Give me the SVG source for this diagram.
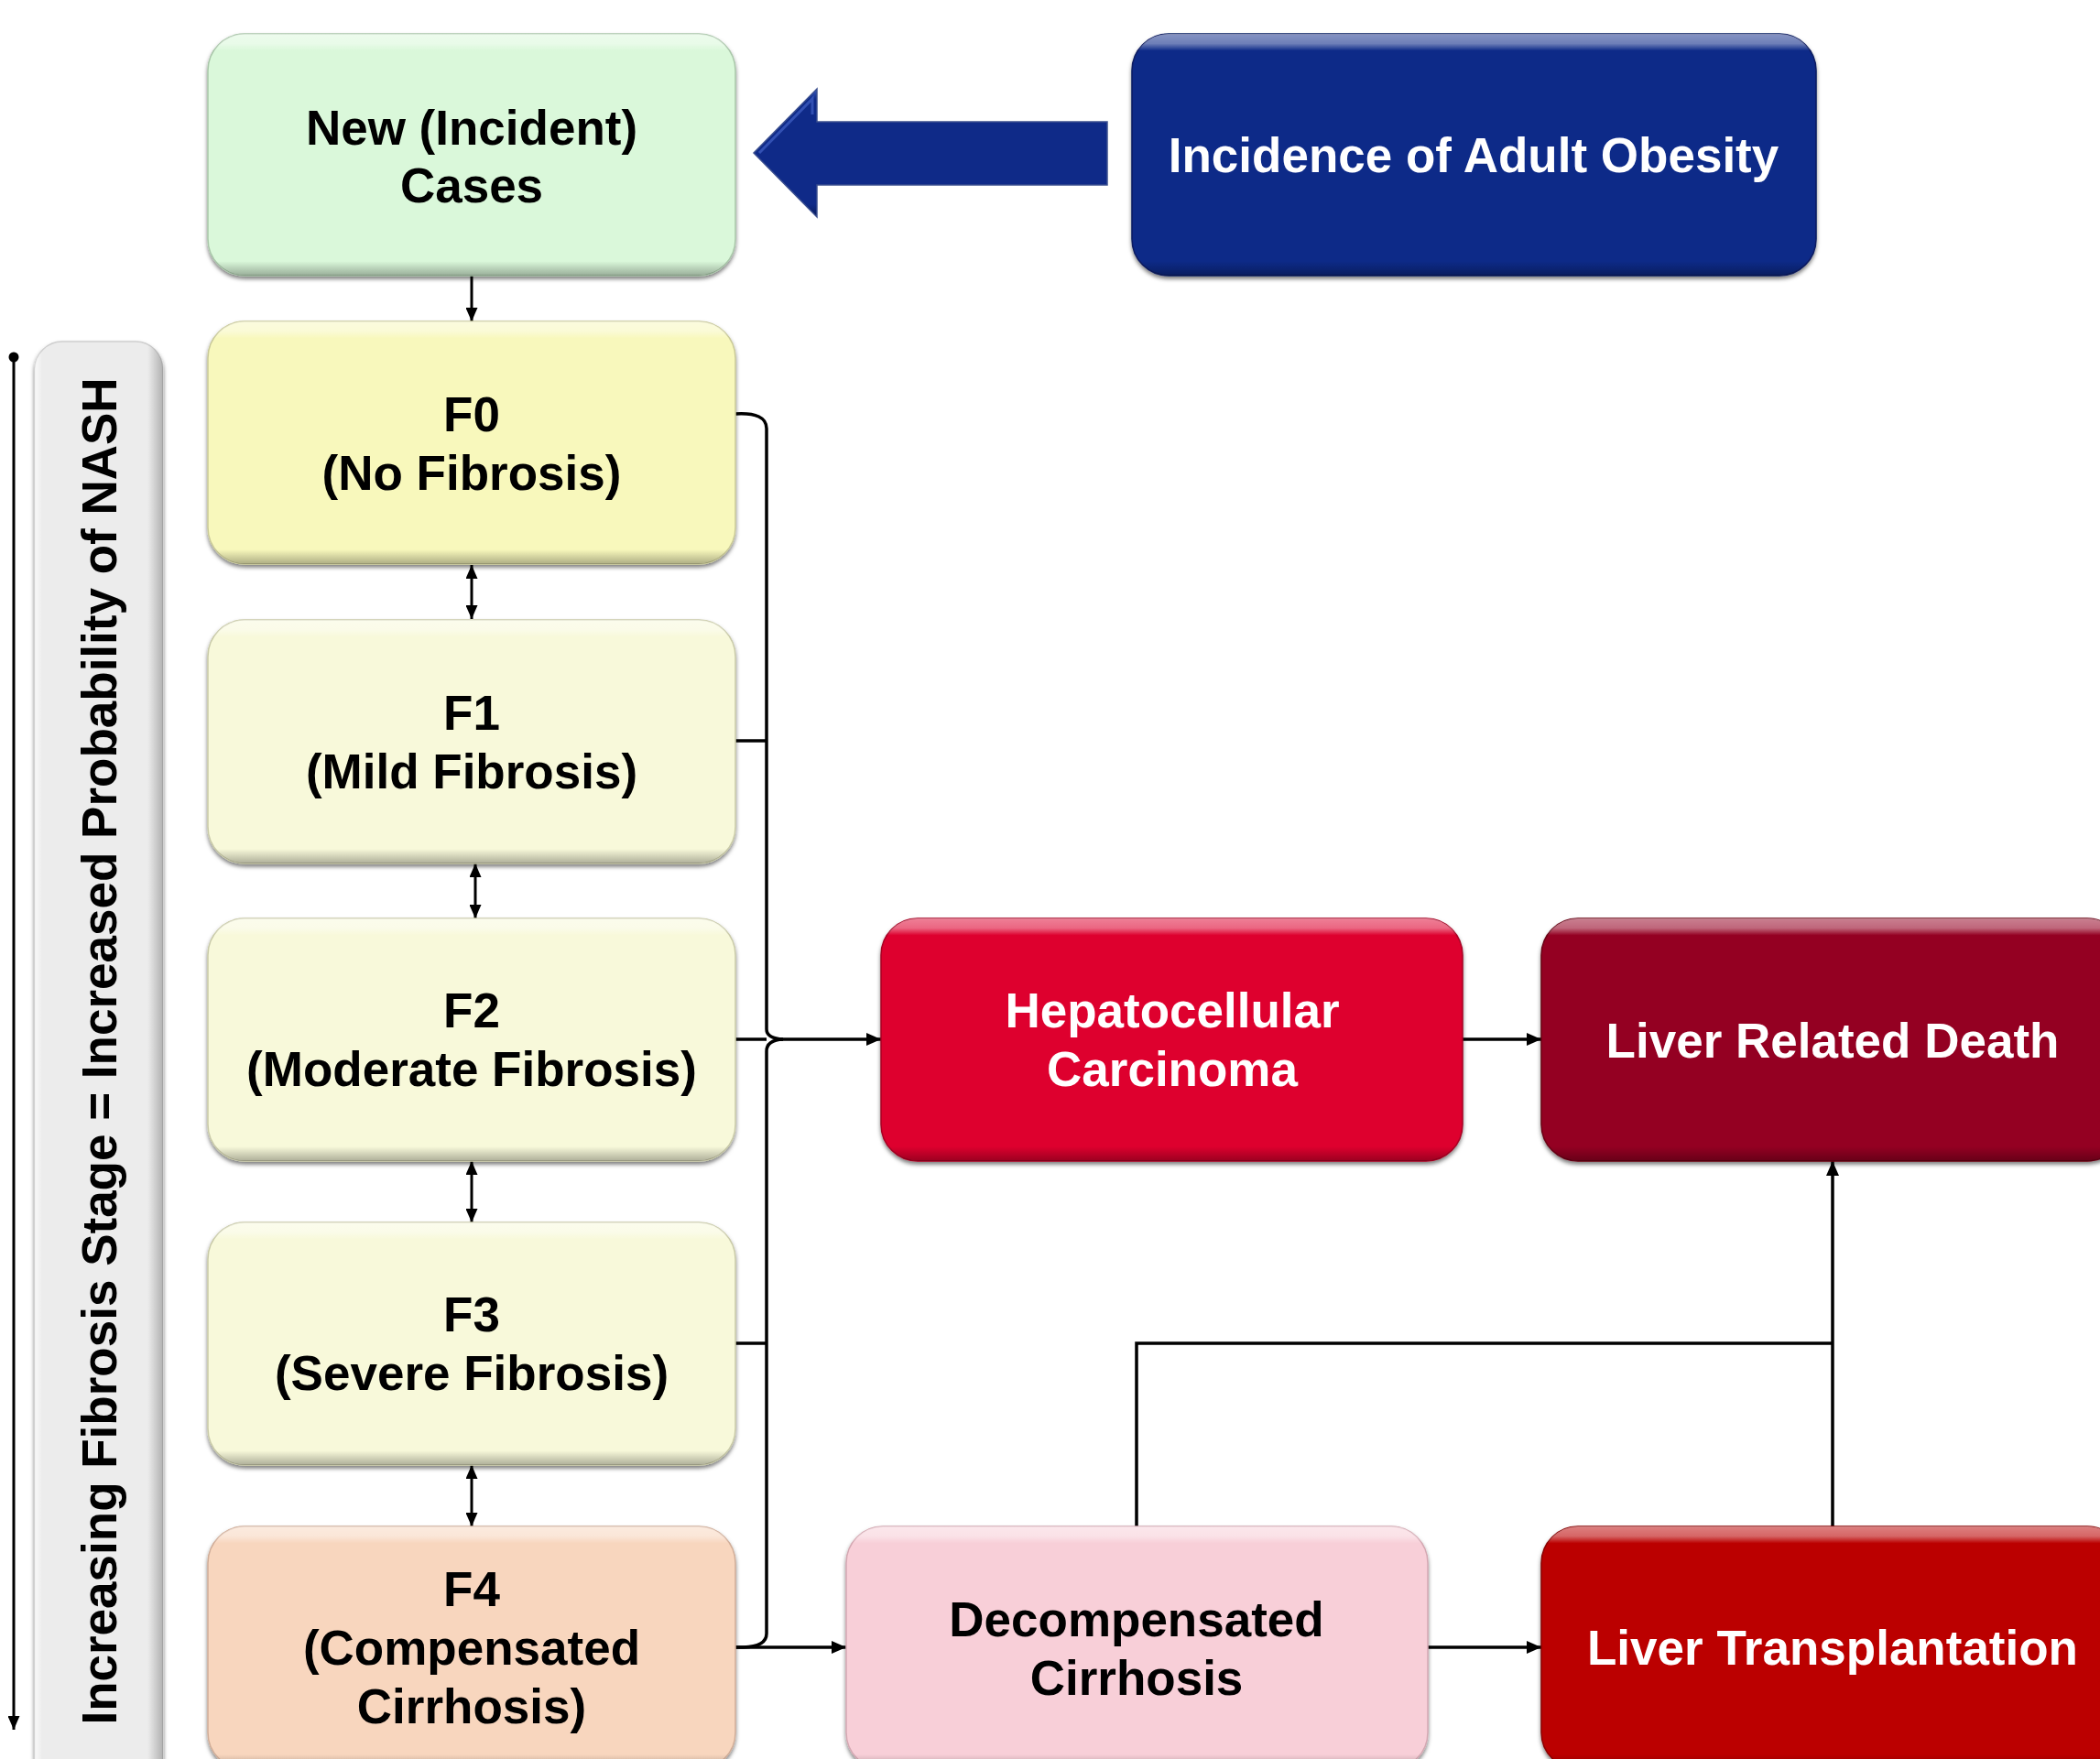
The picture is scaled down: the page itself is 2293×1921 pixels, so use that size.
<svg xmlns="http://www.w3.org/2000/svg" width="2293" height="1921" viewBox="0 0 2293 1921">
<style>
.t{font-family:"Liberation Sans",Arial,sans-serif;font-weight:bold;font-size:53px;text-anchor:middle}
.dk{fill:#000}
.wh{fill:#fff}
.box{filter:url(#sh)}
.bev{fill:url(#bevel);stroke:none}
.c{fill:none;stroke:#000;stroke-width:3.5}
.c2{fill:none;stroke:#000;stroke-width:3}
</style>
<defs>
<filter id="sh" x="-5%" y="-5%" width="110%" height="115%">
<feDropShadow dx="0" dy="3" stdDeviation="2" flood-color="#000" flood-opacity="0.5"/>
</filter>
<linearGradient id="bevel" x1="0" y1="0" x2="0" y2="1">
<stop offset="0" stop-color="#fff" stop-opacity="0.5"/>
<stop offset="0.04" stop-color="#fff" stop-opacity="0.4"/>
<stop offset="0.07" stop-color="#fff" stop-opacity="0"/>
<stop offset="0.94" stop-color="#000" stop-opacity="0"/>
<stop offset="1" stop-color="#000" stop-opacity="0.3"/>
</linearGradient>
<linearGradient id="sideg" x1="0" y1="0" x2="1" y2="0">
<stop offset="0" stop-color="#fff" stop-opacity="0.7"/>
<stop offset="0.06" stop-color="#fff" stop-opacity="0"/>
<stop offset="0.88" stop-color="#000" stop-opacity="0"/>
<stop offset="1" stop-color="#000" stop-opacity="0.25"/>
</linearGradient>
<linearGradient id="arrg" x1="0" y1="0" x2="0" y2="1">
<stop offset="0" stop-color="#3a5cc0"/>
<stop offset="0.08" stop-color="#0f2a88"/>
<stop offset="0.9" stop-color="#0f2a88"/>
<stop offset="1" stop-color="#071a5a"/>
</linearGradient>
<marker id="ah" viewBox="0 0 16 14" refX="16" refY="7" markerWidth="16" markerHeight="14" markerUnits="userSpaceOnUse" orient="auto-start-reverse">
<path d="M0 0 L16 7 L0 14 Z" fill="#000"/>
</marker>
<marker id="ahs" viewBox="0 0 15 13" refX="15" refY="6.5" markerWidth="15" markerHeight="13" markerUnits="userSpaceOnUse" orient="auto-start-reverse">
<path d="M0 0 L15 6.5 L0 13 Z" fill="#000"/>
</marker>
</defs>
<rect width="2293" height="1921" fill="#fff"/>

<g id="side-label">
<rect x="38" y="373" width="140" height="1600" rx="30" fill="#ececec" stroke="#cfcfcf" stroke-width="1.5" class="box"/>
<rect x="38" y="373" width="140" height="1600" rx="30" fill="url(#sideg)"/>
<text class="t dk" transform="translate(127,1148) rotate(-90)">Increasing Fibrosis Stage = Increased Probability of NASH</text>
</g>

<g id="connectors">
<circle cx="15" cy="390" r="5.5" fill="#000"/>
<path class="c2" d="M15 390 V1889" marker-end="url(#ahs)"/>
<path class="c2" d="M515 301 V351" marker-end="url(#ahs)"/>
<path class="c2" d="M515 617 V676" marker-start="url(#ahs)" marker-end="url(#ahs)"/>
<path class="c2" d="M519 943 V1003" marker-start="url(#ahs)" marker-end="url(#ahs)"/>
<path class="c2" d="M515 1268 V1335" marker-start="url(#ahs)" marker-end="url(#ahs)"/>
<path class="c2" d="M515 1600 V1667" marker-start="url(#ahs)" marker-end="url(#ahs)"/>
<path class="c" d="M803 452 Q837 450 837 468 L837 1124 Q837 1134 855 1135"/>
<path class="c" d="M855 1135 Q837 1136 837 1148 L837 1784 Q837 1798 812 1799 L803 1799"/>
<path class="c" d="M803 809 H837"/>
<path class="c" d="M803 1135 H837"/>
<path class="c" d="M803 1467 H837"/>
<path class="c" d="M852 1135 H962" marker-end="url(#ah)"/>
<path class="c" d="M1597 1135 H1683" marker-end="url(#ah)"/>
<path class="c" d="M803 1799 H924" marker-end="url(#ah)"/>
<path class="c" d="M1559 1799 H1683" marker-end="url(#ah)"/>
<path class="c" d="M1241 1667 V1467 H2001"/>
<path class="c" d="M2001 1667 V1268" marker-end="url(#ah)"/>
</g>

<g id="obesity-arrow">
<path d="M823 167 L892 97 L892 133 L1209 133 L1209 202 L892 202 L892 237 Z" fill="url(#arrg)" stroke="#3b4f8f" stroke-width="1.5"/>
<path d="M829 167 L887 108 L887 125" fill="none" stroke="#4a6ad0" stroke-width="3" stroke-opacity="0.6"/>
</g>

<g id="new-cases">
<rect x="227" y="37" width="576" height="264" rx="40" fill="#daf8da" stroke="#a9c6a9" stroke-width="1.5" class="box"/>
<rect x="227" y="37" width="576" height="264" rx="40" class="bev"/>
<text class="t dk" x="515" y="158">New (Incident)</text>
<text class="t dk" x="515" y="221">Cases</text>
</g>

<g id="obesity">
<rect x="1236" y="37" width="747" height="264" rx="40" fill="#0f2a88" stroke="#081a60" stroke-width="1.5" class="box"/>
<rect x="1236" y="37" width="747" height="264" rx="40" class="bev"/>
<text class="t wh" x="1609" y="188">Incidence of Adult Obesity</text>
</g>

<g id="f0">
<rect x="227" y="351" width="576" height="265" rx="40" fill="#f8f8bc" stroke="#c9c998" stroke-width="1.5" class="box"/>
<rect x="227" y="351" width="576" height="265" rx="40" class="bev"/>
<text class="t dk" x="515" y="471">F0</text>
<text class="t dk" x="515" y="535">(No Fibrosis)</text>
</g>

<g id="f1">
<rect x="227" y="677" width="576" height="266" rx="40" fill="#f8f9da" stroke="#c9caa8" stroke-width="1.5" class="box"/>
<rect x="227" y="677" width="576" height="266" rx="40" class="bev"/>
<text class="t dk" x="515" y="797">F1</text>
<text class="t dk" x="515" y="861">(Mild Fibrosis)</text>
</g>

<g id="f2">
<rect x="227" y="1003" width="576" height="265" rx="40" fill="#f8f9da" stroke="#c9caa8" stroke-width="1.5" class="box"/>
<rect x="227" y="1003" width="576" height="265" rx="40" class="bev"/>
<text class="t dk" x="515" y="1122">F2</text>
<text class="t dk" x="515" y="1186">(Moderate Fibrosis)</text>
</g>

<g id="f3">
<rect x="227" y="1335" width="576" height="265" rx="40" fill="#f8f9da" stroke="#c9caa8" stroke-width="1.5" class="box"/>
<rect x="227" y="1335" width="576" height="265" rx="40" class="bev"/>
<text class="t dk" x="515" y="1454">F3</text>
<text class="t dk" x="515" y="1518">(Severe Fibrosis)</text>
</g>

<g id="f4">
<rect x="227" y="1667" width="576" height="265" rx="40" fill="#f8d6be" stroke="#d0ad98" stroke-width="1.5" class="box"/>
<rect x="227" y="1667" width="576" height="265" rx="40" class="bev"/>
<text class="t dk" x="515" y="1754">F4</text>
<text class="t dk" x="515" y="1818">(Compensated</text>
<text class="t dk" x="515" y="1882">Cirrhosis)</text>
</g>

<g id="hcc">
<rect x="962" y="1003" width="635" height="265" rx="40" fill="#de002f" stroke="#a80024" stroke-width="1.5" class="box"/>
<rect x="962" y="1003" width="635" height="265" rx="40" class="bev"/>
<text class="t wh" x="1280" y="1122">Hepatocellular</text>
<text class="t wh" x="1280" y="1186">Carcinoma</text>
</g>

<g id="liver-death">
<rect x="1683" y="1003" width="636" height="265" rx="40" fill="#940020" stroke="#6a0016" stroke-width="1.5" class="box"/>
<rect x="1683" y="1003" width="636" height="265" rx="40" class="bev"/>
<text class="t wh" x="2001" y="1155">Liver Related Death</text>
</g>

<g id="decompensated">
<rect x="924" y="1667" width="635" height="265" rx="40" fill="#f8cfd8" stroke="#d4a8b2" stroke-width="1.5" class="box"/>
<rect x="924" y="1667" width="635" height="265" rx="40" class="bev"/>
<text class="t dk" x="1241" y="1787">Decompensated</text>
<text class="t dk" x="1241" y="1851">Cirrhosis</text>
</g>

<g id="transplant">
<rect x="1683" y="1667" width="636" height="265" rx="40" fill="#bb0202" stroke="#8a0000" stroke-width="1.5" class="box"/>
<rect x="1683" y="1667" width="636" height="265" rx="40" class="bev"/>
<text class="t wh" x="2001" y="1818">Liver Transplantation</text>
</g>
</svg>
